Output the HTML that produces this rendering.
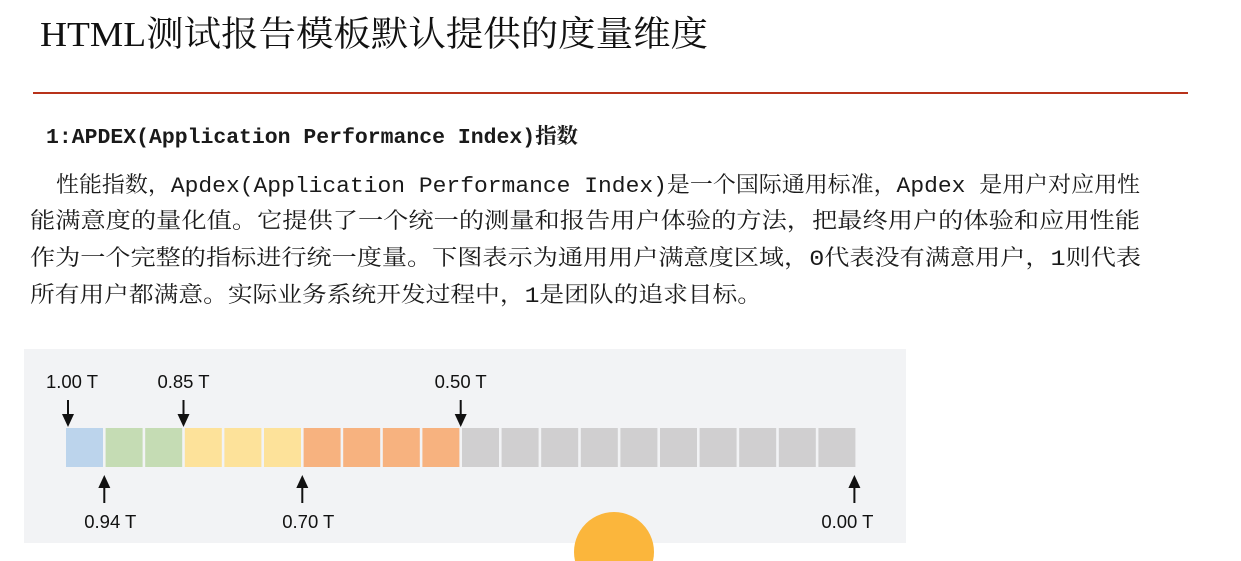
<!DOCTYPE html>
<html><head><meta charset="utf-8"><style>
html,body{margin:0;padding:0;background:#fff;width:1241px;height:561px;overflow:hidden}
svg{display:block;overflow:hidden}
.t{font-family:"Liberation Serif","Noto Serif CJK SC",serif;fill:#111}
.m{font-family:"Liberation Mono","Noto Serif CJK SC",monospace;fill:#1a1a1a}
.s{font-family:"Liberation Sans","Noto Sans CJK SC",sans-serif;fill:#111;font-size:18.5px}
</style></head><body>
<svg id="chart" width="1241" height="561" viewBox="0 0 1241 561">
<text class="t" x="40" y="46" font-size="35" textLength="668" lengthAdjust="spacingAndGlyphs">HTML测试报告模板默认提供的度量维度</text>
<rect x="33" y="92" width="1155" height="2" fill="#b8321a"/>
<text class="m" x="46" y="143" font-size="21" font-weight="bold" textLength="532" lengthAdjust="spacingAndGlyphs">1:APDEX(Application Performance Index)指数</text>
<g>
<text class="m" x="56" y="192" font-size="22" textLength="1084" lengthAdjust="spacingAndGlyphs">性能指数，Apdex(Application Performance Index)是一个国际通用标准，Apdex 是用户对应用性</text>
<text class="m" x="30" y="228" font-size="22" textLength="1110" lengthAdjust="spacingAndGlyphs">能满意度的量化值。它提供了一个统一的测量和报告用户体验的方法，把最终用户的体验和应用性能</text>
<text class="m" x="30" y="265" font-size="22" textLength="1111" lengthAdjust="spacingAndGlyphs">作为一个完整的指标进行统一度量。下图表示为通用用户满意度区域，0代表没有满意用户，1则代表</text>
<text class="m" x="30" y="302" font-size="22" textLength="732" lengthAdjust="spacingAndGlyphs">所有用户都满意。实际业务系统开发过程中，1是团队的追求目标。</text>
</g>
<rect x="24" y="349" width="882" height="194" fill="#f2f3f5"/>
<g id="cells"></g>
<g id="markers"></g>
<path d="M575.03 561 A40 40 0 1 1 652.97 561 Z" fill="#fbb63c"/>
</svg>
<script>
const zoneCounts = [1, 2, 3, 4, 10];
const zoneColors = ["#bcd4ec", "#c5dcb4", "#fde29a", "#f7b27f", "#d0cfd0"];
const markerLabels = ["1.00 T", "0.94 T", "0.85 T", "0.70 T", "0.50 T", "0.00 T"];
const markerIndex = [0, 1, 3, 6, 10, 20];
const markerSide = ["top", "bottom", "top", "bottom", "top", "bottom"];

const NS = "http://www.w3.org/2000/svg";
const x0 = 66, step = 39.6, cw = 37, cy = 428, ch = 39;
function xAt(i){ return x0 + i * step; }
function mk(tag, attrs, parent){ const e = document.createElementNS(NS, tag); for (const k in attrs) e.setAttribute(k, attrs[k]); parent.appendChild(e); return e; }
const cells = document.getElementById("cells");
let idx = 0;
zoneCounts.forEach((n, z) => {
  for (let j = 0; j < n; j++) {
    const r = mk("rect", {x: xAt(idx), y: cy, width: cw, height: ch, fill: zoneColors[z]}, cells);
    
    
    idx++;
  }
});
const markers = document.getElementById("markers");
markerLabels.forEach((lab, k) => {
  const i = markerIndex[k];
  let x = i === 0 ? xAt(0) + 2 : (i === 20 ? xAt(19) + cw - 1 : xAt(i) - 1.3);
  const g = mk("g", {}, markers);
  
  
  if (markerSide[k] === "top") {
    mk("line", {x1: x, y1: 400, x2: x, y2: 416, stroke: "#111", "stroke-width": 2}, g);
    mk("polygon", {points: `${x-6},414 ${x+6},414 ${x},427`, fill: "#111"}, g);
    const t = mk("text", {x: x + (i === 0 ? 4 : 0), y: 388, "text-anchor": "middle", class: "s"}, g);
    t.textContent = lab;
  } else {
    mk("line", {x1: x, y1: 486, x2: x, y2: 503, stroke: "#111", "stroke-width": 2}, g);
    mk("polygon", {points: `${x-6},488 ${x+6},488 ${x},475`, fill: "#111"}, g);
    const t = mk("text", {x: x + (i === 20 ? -7 : 6), y: 528, "text-anchor": "middle", class: "s"}, g);
    t.textContent = lab;
  }
});
</script>
</body></html>
